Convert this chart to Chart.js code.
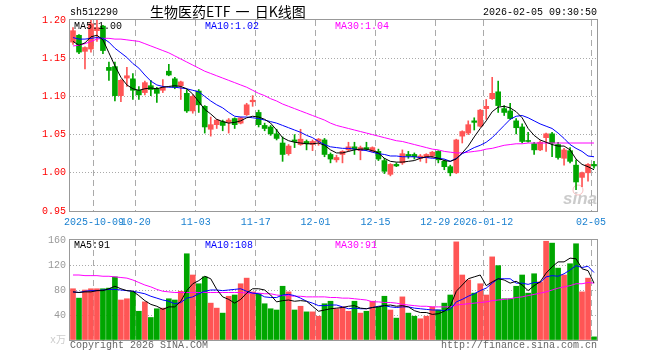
<!DOCTYPE html>
<html lang="zh-CN">
<head>
<meta charset="UTF-8" />
<title>生物医药ETF 日K线图</title>
<script src="https://cdn.jsdelivr.net/npm/chart.js@4"></script>
<style>
    body { margin: 0; background: #fff; width: 660px; height: 360px; position: relative; overflow: hidden; }
    canvas { position: absolute; left: 0; }
    #k { top: 0; }
    #v { top: 230px; }
    .t { position: absolute; font-family: "Liberation Mono", "DejaVu Sans Mono", monospace; font-size: 10px; line-height: 12px; white-space: nowrap; z-index: 2; }
</style>
</head>
<body>
<canvas id="k" width="660" height="230"></canvas>
<canvas id="v" width="660" height="130"></canvas>

<div class="t" style="left:70px;top:7px;color:#000">sh512290</div>
<div class="t" style="left:150px;top:3px;font-family:'Noto Sans CJK SC';font-size:14px;line-height:16px;color:#000;word-spacing:2px">生物医药ETF 一 日K线图</div>
<div class="t" style="right:63px;top:7px;color:#000">2026-02-05 09:30:50</div>

<div class="t" style="left:74px;top:21px;color:#000">MA5:1.00</div>
<div class="t" style="left:205px;top:21px;color:#0000ff">MA10:1.02</div>
<div class="t" style="left:335px;top:21px;color:#ff00ff">MA30:1.04</div>

<div class="t" style="left:74px;top:240px;color:#000">MA5:91</div>
<div class="t" style="left:205px;top:240px;color:#0000ff">MA10:108</div>
<div class="t" style="left:335px;top:240px;color:#ff00ff">MA30:91</div>

<div class="t" style="left:70px;top:340px;color:#666">Copyright 2026 SINA.COM</div>
<div class="t" style="right:63px;top:340px;color:#666">http://finance.sina.com.cn</div>

<script>
// trading days
const dates = [
    '2025-09-25','2025-09-26','2025-09-29','2025-09-30',
    '2025-10-09','2025-10-10','2025-10-13','2025-10-14','2025-10-15','2025-10-16','2025-10-17',
    '2025-10-20','2025-10-21','2025-10-22','2025-10-23','2025-10-24',
    '2025-10-27','2025-10-28','2025-10-29','2025-10-30','2025-10-31',
    '2025-11-03','2025-11-04','2025-11-05','2025-11-06','2025-11-07',
    '2025-11-10','2025-11-11','2025-11-12','2025-11-13','2025-11-14',
    '2025-11-17','2025-11-18','2025-11-19','2025-11-20','2025-11-21',
    '2025-11-24','2025-11-25','2025-11-26','2025-11-27','2025-11-28',
    '2025-12-01','2025-12-02','2025-12-03','2025-12-04','2025-12-05',
    '2025-12-08','2025-12-09','2025-12-10','2025-12-11','2025-12-12',
    '2025-12-15','2025-12-16','2025-12-17','2025-12-18','2025-12-19',
    '2025-12-22','2025-12-23','2025-12-24','2025-12-25','2025-12-26',
    '2025-12-29','2025-12-30','2025-12-31',
    '2026-01-05','2026-01-06','2026-01-07','2026-01-08','2026-01-09',
    '2026-01-12','2026-01-13','2026-01-14','2026-01-15','2026-01-16',
    '2026-01-19','2026-01-20','2026-01-21','2026-01-22','2026-01-23',
    '2026-01-26','2026-01-27','2026-01-28','2026-01-29','2026-01-30',
    '2026-02-02','2026-02-03','2026-02-04','2026-02-05'
];

const open = [
    1.171,1.180,1.159,1.162,1.186,1.192,1.138,1.139,1.101,1.124,
    1.123,1.108,1.105,1.114,1.110,1.108,1.133,1.123,1.114,1.104,
    1.081,1.107,1.087,1.057,1.063,1.067,1.066,1.071,1.065,1.076,
    1.093,1.079,1.062,1.060,1.051,1.039,1.025,1.043,1.037,1.041,
    1.037,1.041,1.043,1.024,1.017,1.024,1.030,1.034,1.029,1.033,
    1.028,1.028,1.016,0.998,1.011,1.013,1.024,1.024,1.019,1.020,
    1.022,1.028,1.015,1.008,1.000,1.048,1.052,1.068,1.061,1.084,
    1.097,1.106,1.084,1.081,1.068,1.060,1.042,1.038,1.030,1.046,
    1.051,1.037,1.019,1.029,1.010,0.994,1.000,1.011
];
const close = [
    1.186,1.158,1.164,1.195,1.190,1.160,1.134,1.101,1.121,1.127,
    1.108,1.102,1.118,1.109,1.104,1.112,1.128,1.112,1.119,1.081,
    1.100,1.089,1.060,1.063,1.069,1.062,1.069,1.063,1.072,1.089,
    1.095,1.063,1.058,1.051,1.045,1.024,1.035,1.041,1.044,1.038,
    1.041,1.044,1.024,1.018,1.020,1.028,1.034,1.031,1.033,1.031,
    1.033,1.018,1.002,1.011,1.009,1.025,1.022,1.021,1.022,1.024,
    1.027,1.017,1.008,1.000,1.043,1.054,1.063,1.066,1.082,1.087,
    1.104,1.088,1.079,1.071,1.059,1.041,1.041,1.030,1.040,1.051,
    1.039,1.020,1.030,1.015,0.988,1.000,1.011,1.009
];
const high = [
    1.190,1.181,1.165,1.200,1.201,1.193,1.145,1.145,1.122,1.138,
    1.130,1.113,1.120,1.121,1.112,1.122,1.142,1.125,1.120,1.109,
    1.102,1.109,1.088,1.073,1.070,1.069,1.071,1.072,1.073,1.091,
    1.101,1.082,1.065,1.062,1.057,1.047,1.037,1.050,1.057,1.043,
    1.043,1.045,1.045,1.026,1.023,1.029,1.040,1.040,1.035,1.040,
    1.034,1.031,1.019,1.012,1.013,1.030,1.028,1.026,1.024,1.025,
    1.028,1.029,1.017,1.010,1.044,1.055,1.068,1.072,1.083,1.096,
    1.125,1.120,1.088,1.091,1.071,1.064,1.053,1.040,1.042,1.052,
    1.053,1.040,1.032,1.033,1.017,1.001,1.012,1.015
];
const low = [
    1.168,1.156,1.136,1.158,1.172,1.156,1.121,1.094,1.093,1.113,
    1.096,1.096,1.102,1.101,1.092,1.105,1.127,1.110,1.096,1.079,
    1.078,1.079,1.052,1.048,1.058,1.055,1.052,1.058,1.064,1.075,
    1.087,1.060,1.055,1.049,1.043,1.015,1.023,1.033,1.036,1.030,
    1.029,1.036,1.021,1.013,1.014,1.013,1.028,1.024,1.017,1.029,
    1.027,1.016,0.999,0.996,1.008,1.011,1.019,1.018,1.015,1.013,
    1.020,1.013,1.004,0.996,0.999,1.039,1.050,1.056,1.060,1.070,
    1.096,1.079,1.075,1.070,1.051,1.039,1.040,1.024,1.029,1.028,
    1.021,1.018,1.010,1.013,0.978,0.982,0.989,1.006
];

const ma5 = [
    1.172,1.167,1.170,1.178,1.180,1.174,1.157,1.140,1.125,1.115,
    1.110,1.108,1.110,1.111,1.110,1.112,1.113,1.114,1.113,1.110,
    1.103,1.093,1.083,1.077,1.070,1.067,1.065,1.066,1.068,1.072,
    1.074,1.073,1.070,1.065,1.056,1.046,1.042,1.040,1.039,1.038,
    1.038,1.039,1.036,1.030,1.026,1.026,1.028,1.030,1.031,1.031,
    1.029,1.026,1.019,1.015,1.014,1.014,1.015,1.016,1.019,1.021,
    1.021,1.019,1.016,1.015,1.018,1.026,1.035,1.047,1.058,1.068,
    1.080,1.086,1.087,1.085,1.080,1.072,1.058,1.049,1.043,1.040,
    1.037,1.035,1.035,1.030,1.018,1.011,1.008,1.004
];
const ma10 = [
    1.177,1.175,1.175,1.176,1.177,1.176,1.171,1.163,1.157,1.151,
    1.143,1.137,1.128,1.120,1.115,1.113,1.112,1.112,1.111,1.110,
    1.108,1.106,1.100,1.094,1.089,1.085,1.079,1.074,1.073,1.073,
    1.072,1.071,1.069,1.067,1.065,1.062,1.059,1.056,1.053,1.049,
    1.046,1.041,1.037,1.034,1.033,1.032,1.032,1.031,1.030,1.029,
    1.027,1.025,1.024,1.022,1.022,1.021,1.021,1.021,1.020,1.020,
    1.019,1.019,1.018,1.015,1.019,1.025,1.029,1.033,1.036,1.040,
    1.046,1.054,1.062,1.070,1.074,1.075,1.072,1.068,1.064,1.061,
    1.058,1.052,1.045,1.037,1.032,1.028,1.022,1.021
];
const ma30 = [
    1.166,1.167,1.169,1.172,1.175,1.176,1.176,1.175,1.175,1.174,
    1.173,1.172,1.169,1.166,1.163,1.160,1.157,1.153,1.149,1.145,
    1.141,1.137,1.133,1.130,1.127,1.124,1.121,1.118,1.115,1.112,
    1.108,1.104,1.101,1.097,1.094,1.090,1.087,1.084,1.081,1.078,
    1.075,1.072,1.069,1.065,1.062,1.060,1.058,1.056,1.054,1.052,
    1.050,1.048,1.046,1.044,1.042,1.041,1.039,1.037,1.035,1.033,
    1.031,1.030,1.028,1.027,1.026,1.026,1.027,1.028,1.029,1.031,
    1.032,1.034,1.036,1.037,1.038,1.038,1.039,1.039,1.039,1.039,
    1.039,1.039,1.039,1.039,1.039,1.039,1.039,1.039
];

// volume, 万手
const volume = [
    82,67,80,82,82,82,83,101,64,66,
    77,46,61,36,50,51,66,64,78,138,
    104,90,101,59,51,43,70,72,90,99,
    77,74,58,50,48,86,77,48,54,45,
    45,38,58,62,50,53,46,62,43,46,
    62,53,70,48,35,69,43,38,34,38,
    53,48,59,72,157,104,96,75,90,72,
    133,119,66,66,86,104,75,106,93,158,
    155,115,104,122,154,77,99,5
];
const volMa5 = [
    77,76,77,77,79,79,82,86,82,79,
    78,71,63,57,54,49,53,53,62,79,
    90,95,102,98,81,69,65,59,65,75,
    82,82,80,72,61,63,64,62,63,62,
    54,46,48,50,51,52,54,55,51,50,
    52,53,55,56,54,55,53,47,44,44,
    41,42,46,54,78,88,98,101,104,87,
    93,98,96,91,94,88,79,87,93,107,
    117,125,125,131,130,114,111,91
];
const volMa10 = [
    77,76,78,79,79,80,81,81,80,79,
    78,76,74,70,67,64,62,58,60,67,
    69,74,78,80,80,79,80,81,82,78,
    75,74,69,68,68,72,73,71,67,62,
    59,55,55,56,56,53,50,51,50,50,
    52,54,55,53,52,53,53,51,50,49,
    48,48,47,49,61,65,70,74,79,83,
    91,98,98,98,91,91,89,92,92,101,
    103,102,106,112,119,116,118,108
];
const volMa30 = [
    104,104,103,103,103,102,102,101,100,99,
    96,92,88,85,81,78,77,76,76,76,
    76,76,76,76,76,76,76,76,76,75,
    75,75,74,74,72,71,71,70,70,69,
    69,69,69,68,68,67,67,66,65,64,
    61,61,60,60,59,57,56,55,54,54,
    53,53,53,53,56,57,58,59,60,61,
    63,64,65,66,68,69,71,73,75,77,
    80,83,85,87,90,90,92,91
];

const tickDates = ['2025-10-09','2025-10-20','2025-11-03','2025-11-17','2025-12-01','2025-12-15','2025-12-29','2026-01-12','2026-02-05'];
const tickText = ['2025-10-09','10-20','11-03','11-17','12-01','12-15','12-29','2026-01-12','02-05'];
const priceTicks = [0.95, 1.00, 1.05, 1.10, 1.15, 1.20];
const volTicks = [0, 40, 80, 120, 160];

const UP = '#ff5555';
const DOWN = '#00a600';
const GRID = '#aaaaaa';
const FONT = { family: 'Liberation Mono', size: 10 };

const colors = close.map((c, i) => c >= open[i] ? UP : DOWN);
const bodies = open.map((o, i) => [Math.min(o, close[i]), Math.max(o, close[i])]);
const wicks = low.map((l, i) => [l, high[i]]);
const tickIdx = tickDates.map(d => dates.indexOf(d));

Chart.defaults.animation = false;
Chart.defaults.plugins.legend.display = false;
Chart.defaults.plugins.tooltip.enabled = false;

// plot frame + watermark
const frame = {
    id: 'frame',
    afterDatasetsDraw(chart) {
        const { ctx, chartArea: a } = chart;
        ctx.save();
        ctx.strokeStyle = '#999';
        ctx.lineWidth = 1;
        ctx.strokeRect(Math.round(a.left) - 0.5, Math.round(a.top) - 0.5,
            Math.round(a.right - a.left) + 1, Math.round(a.bottom - a.top) + 1);
        ctx.restore();
    }
};
const watermark = {
    id: 'watermark',
    beforeDatasetsDraw(chart) {
        const { ctx } = chart;
        ctx.save();
        ctx.fillStyle = 'rgba(190,190,190,0.8)';
        ctx.font = 'bold italic 17px "Liberation Sans"';
        ctx.fillText('sina', 563, 204);
        ctx.strokeStyle = 'rgba(240,150,150,0.6)';
        ctx.beginPath();
        ctx.arc(578, 190, 5, 0, Math.PI * 2);
        ctx.stroke();
        ctx.restore();
    }
};

const xScale = (showLabels, h) => ({
    offset: true,
    grid: {
        offset: true,
        drawTicks: false,
        color: ctx => tickIdx.includes(ctx.index) ? GRID : 'rgba(0,0,0,0)'
    },
    border: { display: false, dash: [6, 4] },
    ticks: {
        display: showLabels,
        autoSkip: false,
        maxRotation: 0,
        minRotation: 0,
        padding: 5,
        labelOffset: -3,
        color: '#1a80d0',
        font: FONT,
        callback: (v, i) => {
            const k = tickIdx.indexOf(i);
            return k < 0 ? '' : tickText[k];
        }
    },
    afterFit: s => { s.height = h; }
});

const lineSet = (data, color) => ({
    type: 'line', data, borderColor: color, borderWidth: 1,
    pointRadius: 0, tension: 0, fill: false, order: 0
});

new Chart(document.getElementById('k'), {
    type: 'bar',
    data: {
        labels: dates,
        datasets: [
            lineSet(ma5, '#000000'),
            lineSet(ma10, '#0000ff'),
            lineSet(ma30, '#ff00ff'),
            { data: bodies, backgroundColor: colors, barThickness: 5, minBarLength: 1, grouped: false, order: 1 },
            { data: wicks, backgroundColor: colors, barThickness: 1, grouped: false, order: 2 }
        ]
    },
    options: {
        responsive: false,
        layout: { padding: { top: 20, right: 63, left: 0, bottom: 0 } },
        scales: {
            x: xScale(true, 19),
            y: {
                min: 0.95,
                max: 1.20,
                afterBuildTicks: s => { s.ticks = priceTicks.map(v => ({ value: v })); },
                ticks: { color: '#ff0000', font: FONT, padding: 4, callback: v => v.toFixed(2) },
                grid: {
                    drawTicks: false,
                    color: ctx => (ctx.tick && ctx.tick.value > 0.96 && ctx.tick.value < 1.19) ? GRID : 'rgba(0,0,0,0)'
                },
                border: { display: false, dash: [1, 2] },
                afterFit: s => { s.width = 70; }
            }
        }
    },
    plugins: [watermark, frame]
});

new Chart(document.getElementById('v'), {
    type: 'bar',
    data: {
        labels: dates,
        datasets: [
            lineSet(volMa5, '#000000'),
            lineSet(volMa10, '#0000ff'),
            lineSet(volMa30, '#ff00ff'),
            { data: volume, backgroundColor: colors, barThickness: 5, grouped: false, order: 1 }
        ]
    },
    options: {
        responsive: false,
        layout: { padding: { top: 10, right: 63, left: 0, bottom: 0 } },
        scales: {
            x: xScale(false, 20),
            y: {
                min: 0,
                max: 160,
                afterBuildTicks: s => { s.ticks = volTicks.map(v => ({ value: v })); },
                ticks: {
                    font: FONT,
                    padding: 4,
                    color: ctx => ctx.tick && ctx.tick.value === 0 ? '#cccccc' : '#999999',
                    callback: v => v === 0 ? 'x万' : String(v)
                },
                grid: {
                    drawTicks: false,
                    color: ctx => (ctx.tick && ctx.tick.value > 0 && ctx.tick.value < 160) ? GRID : 'rgba(0,0,0,0)'
                },
                border: { display: false, dash: [1, 2] },
                afterFit: s => { s.width = 70; }
            }
        }
    },
    plugins: [frame]
});
</script>
</body>
</html>
